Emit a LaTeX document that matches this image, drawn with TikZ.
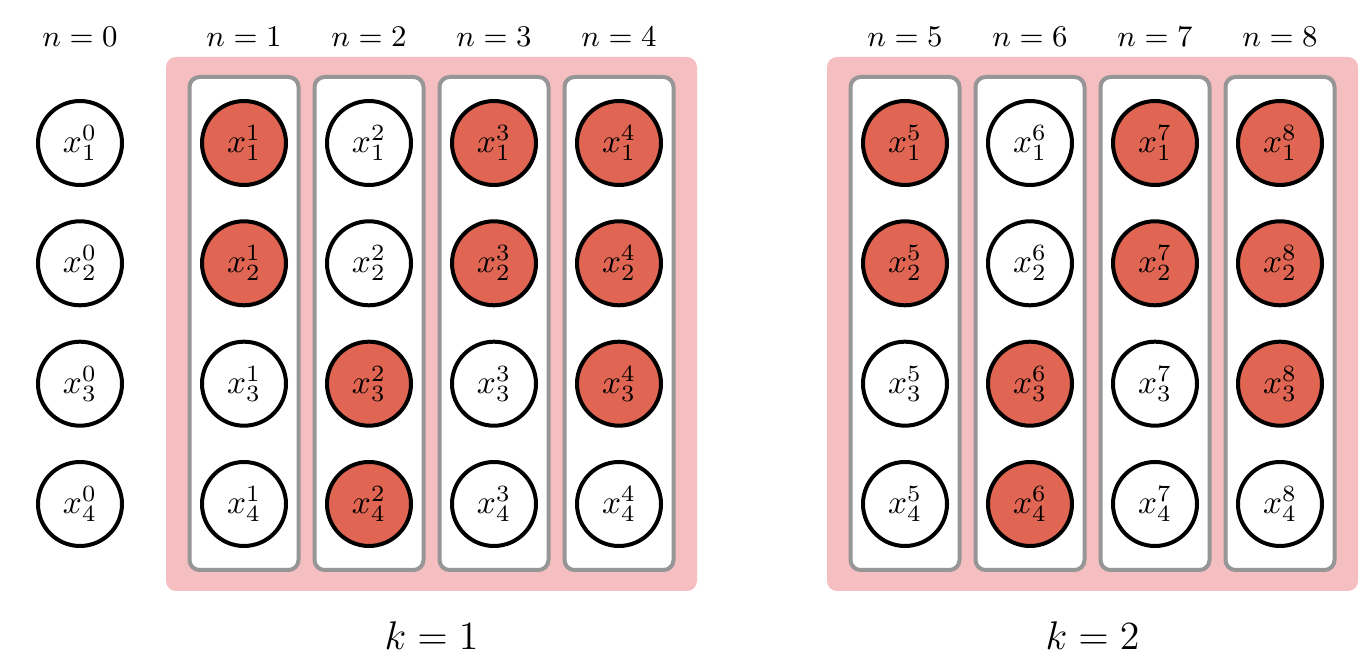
\documentclass[tikz,border=0pt]{standalone}
\usepackage{tikz}
\definecolor{cred}{RGB}{224,101,83}
\definecolor{cpink}{RGB}{245,190,192}
\definecolor{cgray}{RGB}{150,150,150}
\tikzset{
  var/.style={circle, draw=black, line width=1.2pt, minimum size=25.2pt, inner sep=0pt, fill=white},
  on/.style={var, fill=cred},
  colbox/.style={draw=cgray, line width=1.2pt, fill=white, rounded corners=3pt},
  group/.style={fill=cpink, rounded corners=3pt},
  nlab/.style={font=\small, inner sep=0pt},
  klab/.style={font=\large, inner sep=0pt},
}
\begin{document}
\begin{tikzpicture}[x=0.3pt,y=-0.3pt]
\useasboundingbox (0,0) rectangle (1372,660);
% groups
\fill[group] (166,57) rectangle (697,591);
\fill[group] (827,57) rectangle (1358,591);
% column boxes
\foreach \cx in {244,369,494,619,905,1030,1155,1280}{
  \draw[colbox] (\cx-54.5,77) rectangle (\cx+54.5,570);
}
% labels
\foreach \n/\cx in {0/80,1/244,2/369,3/494,4/619,5/905,6/1030,7/1155,8/1280}{
  \node[nlab] (lab\n) at (\cx,37) {$n=\n$};
}
\node[klab] (k1) at (431.5,636) {$k=1$};
\node[klab] (k2) at (1092.5,636) {$k=2$};
% variables: n/cx/fills for rows 1..4
\foreach \n/\cx/\a/\b/\c/\d in {
  0/80/var/var/var/var,
  1/244/on/on/var/var,
  2/369/var/var/on/on,
  3/494/on/on/var/var,
  4/619/on/on/on/var,
  5/905/on/on/var/var,
  6/1030/var/var/on/on,
  7/1155/on/on/var/var,
  8/1280/on/on/on/var}{
  \node[\a] (x\n-1) at (\cx,143) {$x^{\n}_{1}$};
  \node[\b] (x\n-2) at (\cx,263.3) {$x^{\n}_{2}$};
  \node[\c] (x\n-3) at (\cx,383.7) {$x^{\n}_{3}$};
  \node[\d] (x\n-4) at (\cx,504) {$x^{\n}_{4}$};
}
\end{tikzpicture}
\end{document}
